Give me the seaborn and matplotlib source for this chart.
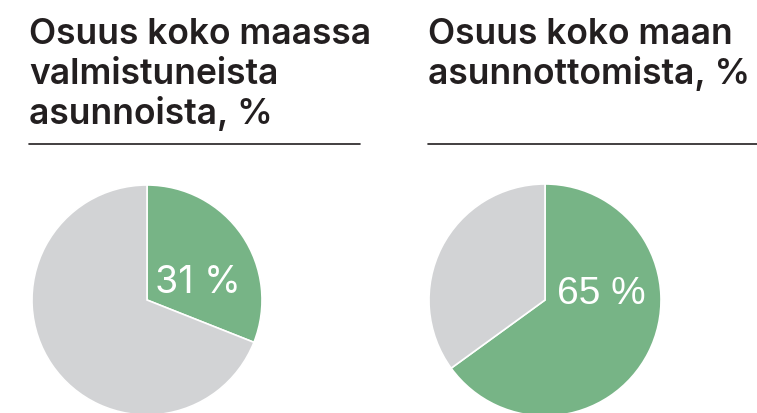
import matplotlib
matplotlib.use("Agg")
import matplotlib.pyplot as plt
import seaborn as sns

# data
titles = [["Osuus koko maassa", "valmistuneista", "asunnoista, %"],
          ["Osuus koko maan", "asunnottomista, %"]]
shares = [31, 65]
labels = ["31 %", "65 %"]

green = "#77b486"
grey = "#d2d3d5"

sns.set_theme(style="white")
plt.rcParams["font.family"] = ["Inter", "DejaVu Sans"]

W, H = 757, 413
fig = plt.figure(figsize=(W / 100, H / 100), dpi=100)

# pixel layout (top-origin): pie centre x, centre y, radius, title x, rule end
layout = [(147, 300, 115, 29, 360), (545, 300, 116, 428, 757)]
label_pos = [(0.07, 0.06), (0.10, -0.035)]
label_size = [27, 28]
label_font = [["Inter"], ["Liberation Sans"]]

for i, (cx, cy, r, tx, lx2) in enumerate(layout):
    ax = fig.add_axes([(cx - r) / W, (H - cy - r) / H, 2 * r / W, 2 * r / H])
    ax.pie([shares[i], 100 - shares[i]], colors=[green, grey], startangle=90,
           counterclock=False, radius=1,
           wedgeprops=dict(edgecolor="white", linewidth=1.2))
    ax.set_xlim(-1, 1)
    ax.set_ylim(-1, 1)
    ax.set_aspect("auto")
    ax.axis("off")
    ax.text(label_pos[i][0], label_pos[i][1], labels[i], color="white",
            fontsize=label_size[i], ha="left", va="baseline",
            family=label_font[i])

    # title lines, one baseline each
    for j, line in enumerate(titles[i]):
        fig.text(tx / W, 1 - (44 + 40 * j) / H, line, fontsize=25.5,
                 fontweight="semibold", color="#231f20",
                 ha="left", va="baseline")
    fig.add_artist(plt.Line2D([tx / W, lx2 / W], [1 - 144 / H, 1 - 144 / H],
                              color="#231f20", linewidth=1.2))

fig.savefig("out.png", dpi=100)
